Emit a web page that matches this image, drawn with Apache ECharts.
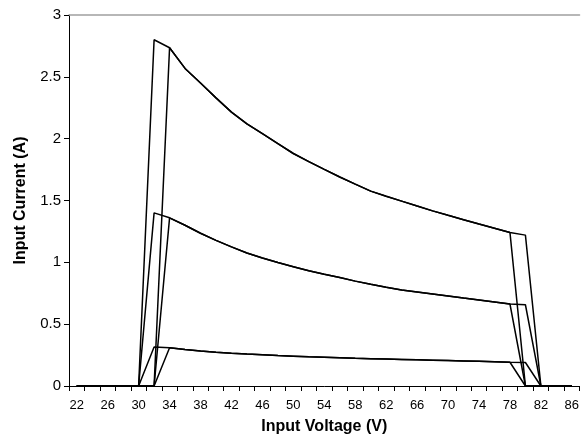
<!DOCTYPE html>
<html>
<head>
<meta charset="utf-8">
<style>
  html, body { margin: 0; padding: 0; background: #fff; }
  #chart { width: 582px; height: 444px; }
</style>
<script src="https://cdn.jsdelivr.net/npm/echarts@6/dist/echarts.min.js"></script>
</head>
<body>
<div id="chart"></div>
<script>
// Input voltage categories (V), one every 2 V
const voltages = ['22','24','26','28','30','32','34','36','38','40','42','44','46','48','50','52','54',
  '56','58','60','62','64','66','68','70','72','74','76','78','80','82','84','86'];

// Input current (A) for the high-load sweep, turn-on at 32 V / turn-off after 78 V
const highA = [0,0,0,0,0, 2.80, 2.735,2.568,2.45,2.33,2.215,2.12,2.04,1.96,1.88,1.815,1.752,1.69,1.632,
  1.576,1.535,1.495,1.455,1.416,1.38,1.345,1.31,1.276,1.242, 0,0,0,0];
// High-load sweep, turn-on at 34 V / turn-off after 80 V
const highB = [0,0,0,0,0,0, 2.735,2.568,2.45,2.33,2.215,2.12,2.04,1.96,1.88,1.815,1.752,1.69,1.632,
  1.576,1.535,1.495,1.455,1.416,1.38,1.345,1.31,1.276,1.242, 1.22, 0,0,0];

// Mid-load sweeps
const midA = [0,0,0,0,0, 1.40, 1.36,1.30,1.235,1.178,1.125,1.075,1.035,0.998,0.965,0.932,0.904,0.877,0.848,
  0.822,0.798,0.776,0.76,0.744,0.728,0.711,0.695,0.679,0.663, 0,0,0,0];
const midB = [0,0,0,0,0,0, 1.36,1.30,1.235,1.178,1.125,1.075,1.035,0.998,0.965,0.932,0.904,0.877,0.848,
  0.822,0.798,0.776,0.76,0.744,0.728,0.711,0.695,0.679,0.663, 0.657, 0,0,0];

// Light-load sweeps
const lowA = [0,0,0,0,0, 0.315, 0.31,0.295,0.283,0.273,0.265,0.258,0.252,0.246,0.241,0.236,0.232,0.228,0.224,
  0.221,0.218,0.215,0.212,0.209,0.206,0.203,0.2,0.196,0.192, 0,0,0,0];
const lowB = [0,0,0,0,0,0, 0.31,0.295,0.283,0.273,0.265,0.258,0.252,0.246,0.241,0.236,0.232,0.228,0.224,
  0.221,0.218,0.215,0.212,0.209,0.206,0.203,0.2,0.196,0.192, 0.19, 0,0,0];

const sweeps = [highA, highB, midA, midB, lowA, lowB];

const chart = echarts.init(document.getElementById('chart'), null, { renderer: 'canvas' });
const font = 'Liberation Sans, Arial, sans-serif';

chart.setOption({
  animation: false,
  backgroundColor: '#fff',
  grid: { left: 69, top: 15, width: 515, height: 371, show: false },
  xAxis: [{
    type: 'category',
    data: voltages,
    boundaryGap: true,
    name: 'Input Voltage (V)',
    nameLocation: 'middle',
    nameGap: 33,
    nameTextStyle: { fontFamily: font, fontSize: 16, fontWeight: 'bold', color: '#000' },
    axisLine: { show: true, lineStyle: { color: '#000', width: 1 } },
    axisTick: { show: true, interval: 0, alignWithLabel: false, length: 5, lineStyle: { color: '#000' } },
    axisLabel: { interval: 1, margin: 13, fontFamily: font, fontSize: 13, color: '#000' },
    splitLine: { show: false }
  }, {
    // plain grey frame line along the top of the plot area
    type: 'category',
    data: voltages,
    position: 'top',
    axisLine: { show: true, lineStyle: { color: '#a0a0a0', width: 1.5 } },
    axisTick: { show: false },
    axisLabel: { show: false },
    splitLine: { show: false }
  }],
  yAxis: {
    type: 'value',
    min: 0, max: 3, interval: 0.5,
    name: 'Input Current (A)',
    nameLocation: 'middle',
    nameGap: 40,
    nameTextStyle: { fontFamily: font, fontSize: 16, fontWeight: 'bold', color: '#000' },
    axisLine: { show: true, lineStyle: { color: '#000', width: 1 } },
    axisTick: { show: true, length: 5, lineStyle: { color: '#000' } },
    axisLabel: { margin: 8, fontFamily: font, fontSize: 15, color: '#000' },
    splitLine: { show: false }
  },
  series: sweeps.map(values => ({
    type: 'line',
    data: values,
    xAxisIndex: 0,
    showSymbol: false,
    symbol: 'none',
    smooth: false,
    lineStyle: { color: '#000', width: 1.5 },
    silent: true
  }))
});
</script>
</body>
</html>
